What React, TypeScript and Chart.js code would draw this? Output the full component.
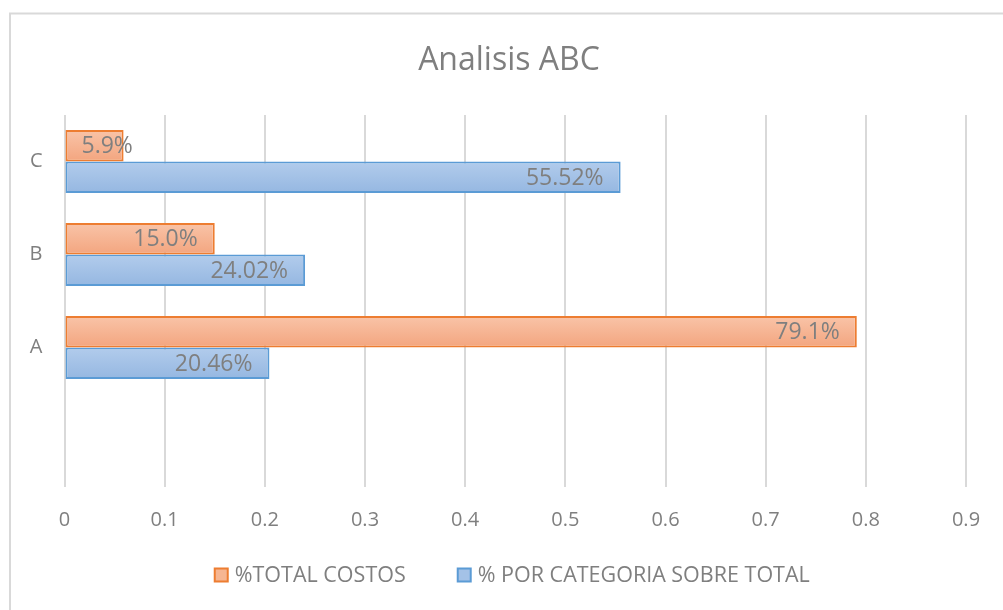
import React, { useEffect, useRef } from "react";
import { Chart, registerables } from "chart.js";

Chart.register(...registerables);

const chartTitle = "Analisis ABC";
const categories = ["A", "B", "C"];
const seriesNames = ["%TOTAL COSTOS", "% POR CATEGORIA SOBRE TOTAL"];
const totalCostos = [0.791, 0.15, 0.059];
const porCategoria = [0.2046, 0.2402, 0.5552];
const labelDecimals = [1, 2];
const xTickLabels = ["0", "0.1", "0.2", "0.3", "0.4", "0.5", "0.6", "0.7", "0.8", "0.9"];

const FONT = "'Open Sans', 'Noto Sans', sans-serif";
const TEXT = "#7f7f7f";
const GRID = "#d9d9d9";
const borderColors = ["#ED7D31", "#5B9BD5"];
const legendFills = ["#F6B692", "#A4C2E7"];
const gradientStops = [
  ["#F9C4A8", "#F3A57F"],
  ["#B2CCEC", "#95B7E1"],
];
const CAT_PCT = 0.68;

function barGradient(ctx: any) {
  const chart = ctx.chart;
  const ds = ctx.datasetIndex;
  const stops = gradientStops[ds];
  if (!chart.chartArea || ctx.type !== "data" || !chart.scales || !chart.scales.y) return legendFills[ds];
  const y = chart.scales.y;
  const center = y.getPixelForValue(ctx.dataIndex);
  const cat = Math.abs(y.getPixelForValue(1) - y.getPixelForValue(0));
  const barH = (cat * CAT_PCT) / 2;
  const top = center - (cat * CAT_PCT) / 2 + ds * barH;
  const g = chart.ctx.createLinearGradient(0, top, 0, top + barH);
  g.addColorStop(0, stops[0]);
  g.addColorStop(1, stops[1]);
  return g;
}

const framePlugin = {
  id: "frame",
  beforeDraw(chart: any) {
    const c = chart.ctx;
    c.save();
    c.fillStyle = "#ffffff";
    c.fillRect(0, 0, chart.width, chart.height);
    c.strokeStyle = GRID;
    c.lineWidth = 2;
    c.beginPath();
    c.moveTo(10, chart.height + 5);
    c.lineTo(10, 13.5);
    c.lineTo(chart.width + 5, 13.5);
    c.stroke();
    c.restore();
  },
};

const dataLabelPlugin = {
  id: "dataLabels",
  afterDatasetsDraw(chart: any) {
    const c = chart.ctx;
    c.save();
    c.font = `23px ${FONT}`;
    c.fillStyle = TEXT;
    c.textBaseline = "middle";
    c.textAlign = "left";
    chart.data.datasets.forEach((ds: any, di: number) => {
      const meta = chart.getDatasetMeta(di);
      meta.data.forEach((el: any, i: number) => {
        const v = ds.data[i];
        if (v === null || v === undefined) return;
        const txt = (v * 100).toFixed(labelDecimals[di]) + "%";
        const tw = c.measureText(txt).width;
        const x = Math.max(el.x - 17 - tw, el.base + 16);
        c.fillText(txt, x, el.y + 1);
      });
    });
    c.restore();
  },
};

const legendPlugin = {
  id: "customLegend",
  afterDraw(chart: any) {
    const c = chart.ctx;
    const area = chart.chartArea;
    c.save();
    c.font = `21.5px ${FONT}`;
    c.textBaseline = "middle";
    c.textAlign = "left";
    const box = 13;
    const gapText = 7;
    const gapItem = 52;
    const widths = seriesNames.map((n) => c.measureText(n).width);
    const total = widths.reduce((s, w) => s + box + gapText + w, 0) + gapItem * (seriesNames.length - 1);
    let x = (area.left + area.right) / 2 - 3 - total / 2;
    const cy = 575;
    seriesNames.forEach((name, i) => {
      c.fillStyle = legendFills[i];
      c.fillRect(x, cy - box / 2, box, box);
      c.strokeStyle = borderColors[i];
      c.lineWidth = 2;
      c.strokeRect(x, cy - box / 2, box, box);
      c.fillStyle = TEXT;
      c.fillText(name, x + box + gapText, cy + 1);
      x += box + gapText + widths[i] + gapItem;
    });
    c.restore();
  },
};

export default function App() {
  const ref = useRef<HTMLCanvasElement>(null);
  useEffect(() => {
    if (!ref.current) return;
    const labels = ["", ...categories];
    const chart = new Chart(ref.current, {
      type: "bar",
      data: {
        labels,
        datasets: [
          {
            label: seriesNames[0],
            data: [null, ...totalCostos],
            backgroundColor: barGradient,
            borderColor: borderColors[0],
            borderWidth: 2,
            borderSkipped: false,
          },
          {
            label: seriesNames[1],
            data: [null, ...porCategoria],
            backgroundColor: barGradient,
            borderColor: borderColors[1],
            borderWidth: 2,
            borderSkipped: false,
          },
        ] as any,
      },
      options: {
        indexAxis: "y",
        responsive: false,
        animation: false,
        devicePixelRatio: 1,
        datasets: { bar: { categoryPercentage: CAT_PCT, barPercentage: 1 } },
        layout: { padding: { left: 15, right: 0, top: 0, bottom: 73 } },
        plugins: {
          title: {
            display: true,
            text: chartTitle,
            color: TEXT,
            font: { family: FONT, size: 32, weight: "normal" },
            padding: { top: 42, bottom: 34.6 },
          },
          legend: { display: false },
          tooltip: { enabled: false },
        },
        scales: {
          x: {
            min: 0,
            max: 0.9,
            ticks: {
              stepSize: 0.1,
              color: TEXT,
              font: { family: FONT, size: 20 },
              padding: 21,
              callback: (_v: any, i: number) => xTickLabels[i],
            },
            grid: { color: GRID, lineWidth: 2, drawTicks: false },
            border: { display: false },
            afterFit: (s: any) => {
              s.height = 50;
            },
          },
          y: {
            reverse: true,
            ticks: {
              color: TEXT,
              font: { family: FONT, size: 20 },
              padding: 22,
            },
            grid: { display: false, drawTicks: false },
            border: { display: false },
            afterFit: (s: any) => {
              s.width = 49.5;
            },
          },
          yRight: {
            type: "linear",
            position: "right",
            display: true,
            ticks: { display: false },
            grid: { display: false, drawTicks: false },
            border: { display: false },
            afterFit: (s: any) => {
              s.width = 37;
            },
          },
        },
      } as any,
      plugins: [framePlugin, dataLabelPlugin, legendPlugin],
    });
    return () => chart.destroy();
  }, []);
  return (
    <div style={{ position: "fixed", left: 0, top: 0, width: 1003, height: 610, background: "#fff", overflow: "hidden" }}>
      <canvas ref={ref} width={1003} height={610} style={{ display: "block" }} />
    </div>
  );
}
